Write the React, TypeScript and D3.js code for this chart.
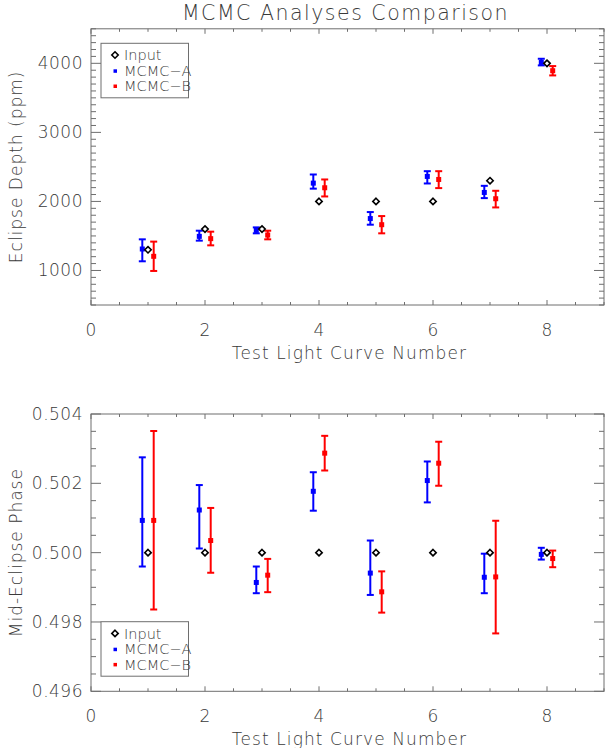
import React from "react";
import * as d3 from "d3";

const tests = [1, 2, 3, 4, 5, 6, 7, 8];
const depthInput = [1300, 1600, 1600, 2000, 2000, 2000, 2300, 4000];
const depthA = [1311, 1494, 1581, 2265, 1752, 2362, 2130, 4013];
const depthALo = [1133, 1432, 1538, 2185, 1663, 2260, 2048, 3970];
const depthAHi = [1451, 1576, 1624, 2390, 1846, 2438, 2226, 4066];
const depthB = [1205, 1461, 1513, 2198, 1663, 2318, 2039, 3893];
const depthBLo = [993, 1364, 1451, 2072, 1538, 2193, 1913, 3825];
const depthBHi = [1418, 1562, 1576, 2318, 1788, 2438, 2154, 3960];

const phaseInput = [0.5, 0.5, 0.5, 0.5, 0.5, 0.5, 0.5, 0.5];
const phaseA = [0.50093, 0.50123, 0.49914, 0.50177, 0.49941, 0.50208, 0.49929, 0.49995];
const phaseALo = [0.4996, 0.50012, 0.49883, 0.50121, 0.49878, 0.50145, 0.49883, 0.4998];
const phaseAHi = [0.50275, 0.50195, 0.4996, 0.50232, 0.50035, 0.50263, 0.49997, 0.50014];
const phaseB = [0.50093, 0.50035, 0.49935, 0.50287, 0.49887, 0.50258, 0.4993, 0.49983];
const phaseBLo = [0.49836, 0.49942, 0.49886, 0.50237, 0.49827, 0.50193, 0.49767, 0.49958];
const phaseBHi = [0.50351, 0.50129, 0.49982, 0.50337, 0.49946, 0.5032, 0.50092, 0.50006];

const xTicks = [0, 2, 4, 6, 8];
const depthTicks = [1000, 2000, 3000, 4000];
const phaseTicks = [0.496, 0.498, 0.5, 0.502, 0.504];
const legendLabels = ["Input", "MCMC-A", "MCMC-B"];

const FONT = "'DejaVu Sans', sans-serif";
const AX = "#6e6e6e";
const TXT = "#3a3a3a";
const BLUE = "#0000ff";
const RED = "#ff0000";

const L = 91, R = 604;
const xScale = d3.scaleLinear().domain([0, 9]).range([L, R]);

type PanelProps = {
  top: number; bottom: number; domain: [number, number];
  yTicks: number[]; yMinor: number; fmt: (v: number) => string;
  input: number[]; a: number[]; aLo: number[]; aHi: number[];
  b: number[]; bLo: number[]; bHi: number[];
  yLabel: string; legendTop: number;
};

function Panel(p: PanelProps) {
  const y = d3.scaleLinear().domain(p.domain).range([p.bottom, p.top]);
  const xMinor = d3.range(0, 9.001, 0.5);
  const yMinorVals = d3.range(p.domain[0], p.domain[1] + p.yMinor / 2, p.yMinor);
  const off = 0.1;
  const errBar = (xv: number, lo: number, hi: number, c: number, color: string, key: string) => {
    const X = xScale(xv);
    return (
      <g key={key} stroke={color} strokeWidth={2}>
        <line x1={X} x2={X} y1={y(lo)} y2={y(hi)} />
        <line x1={X - 3.5} x2={X + 3.5} y1={y(lo)} y2={y(lo)} />
        <line x1={X - 3.5} x2={X + 3.5} y1={y(hi)} y2={y(hi)} />
        <rect x={X - 2.5} y={y(c) - 2.5} width={5} height={5} fill={color} stroke="none" />
      </g>
    );
  };
  const diamond = (X: number, Y: number, key?: string) => (
    <path key={key} d={`M${X},${Y - 3.2}L${X + 3.2},${Y}L${X},${Y + 3.2}L${X - 3.2},${Y}Z`}
      fill="white" stroke="black" strokeWidth={1.6} />
  );
  const lt = p.legendTop;
  return (
    <g>
      <rect x={L} y={p.top} width={R - L} height={p.bottom - p.top} fill="none" stroke={AX} strokeWidth={1} />
      {xMinor.map((v) => {
        const major = xTicks.includes(v);
        const len = major ? 5 : 3;
        return (
          <g key={"xt" + v} stroke={AX}>
            <line x1={xScale(v)} x2={xScale(v)} y1={p.bottom} y2={p.bottom - len} />
            <line x1={xScale(v)} x2={xScale(v)} y1={p.top} y2={p.top + len} />
          </g>
        );
      })}
      {yMinorVals.map((v, i) => {
        const major = p.yTicks.some((t) => Math.abs(t - v) < p.yMinor / 10);
        const len = major ? 10 : 5;
        return (
          <g key={"yt" + i} stroke={AX}>
            <line x1={L} x2={L + len} y1={y(v)} y2={y(v)} />
            <line x1={R} x2={R - len} y1={y(v)} y2={y(v)} />
          </g>
        );
      })}
      {xTicks.map((v) => (
        <text key={"xl" + v} x={xScale(v)} y={p.bottom + 31} textAnchor="middle" fontSize={17} fill={TXT} fontFamily={FONT} fontWeight={200}>{v}</text>
      ))}
      {p.yTicks.map((v) => (
        <text key={"yl" + v} x={L - 8} y={y(v) + 6} textAnchor="end" fontSize={17} fill={TXT} fontFamily={FONT} fontWeight={200} letterSpacing={0.5}>{p.fmt(v)}</text>
      ))}
      <text x={(L + R) / 2 + 2} y={p.bottom + 54} textAnchor="middle" fontSize={17} fill={TXT} fontFamily={FONT} fontWeight={200} letterSpacing={1.1}>Test Light Curve Number</text>
      <text transform={`translate(22,${(p.top + p.bottom) / 2}) rotate(-90)`} textAnchor="middle" fontSize={17} fill={TXT} fontFamily={FONT} fontWeight={200} letterSpacing={1}>{p.yLabel}</text>
      {tests.map((t, i) => errBar(t - off, p.aLo[i], p.aHi[i], p.a[i], BLUE, "a" + i))}
      {tests.map((t, i) => errBar(t + off, p.bLo[i], p.bHi[i], p.b[i], RED, "b" + i))}
      {tests.map((t, i) => diamond(xScale(t), y(p.input[i]), "in" + i))}
      <rect x={101} y={lt} width={87.5} height={54.5} fill="white" stroke={AX} strokeWidth={1} />
      {diamond(115, lt + 11.7)}
      <rect x={113.5} y={lt + 26} width={3.5} height={3.5} fill={BLUE} />
      <rect x={113.5} y={lt + 41.2} width={3.5} height={3.5} fill={RED} />
      {legendLabels.map((s, i) => (
        <text key={s} x={124} y={lt + 17 + i * 15.4} fontSize={14.5} fill={TXT} fontFamily={FONT} fontWeight={200}>{s.replace("-", "\u2212")}</text>
      ))}
    </g>
  );
}

export default function App() {
  return (
    <svg width={605} height={748} style={{ position: "absolute", left: 0, top: 0, background: "white" }}>
      <rect width={605} height={748} fill="white" />
      <text x={345.5} y={20} textAnchor="middle" fontSize={20.5} fill={TXT} fontFamily={FONT} fontWeight={200} letterSpacing={1.5}>MCMC Analyses Comparison</text>
      <Panel top={28.8} bottom={305} domain={[500, 4500]} yTicks={depthTicks} yMinor={100}
        fmt={(v) => String(v)} input={depthInput} a={depthA} aLo={depthALo} aHi={depthAHi}
        b={depthB} bLo={depthBLo} bHi={depthBHi} yLabel="Eclipse Depth (ppm)" legendTop={43.3} />
      <Panel top={414} bottom={691.3} domain={[0.496, 0.504]} yTicks={phaseTicks} yMinor={0.0005}
        fmt={(v) => d3.format(".3f")(v)} input={phaseInput} a={phaseA} aLo={phaseALo} aHi={phaseAHi}
        b={phaseB} bLo={phaseBLo} bHi={phaseBHi} yLabel="Mid-Eclipse Phase" legendTop={621.7} />
    </svg>
  );
}
